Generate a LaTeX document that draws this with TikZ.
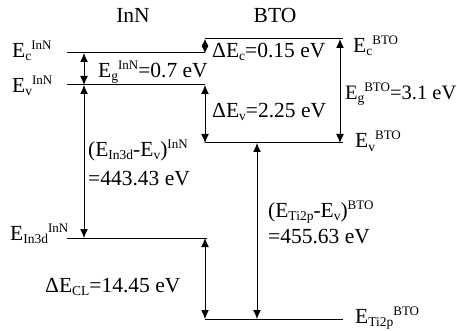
\documentclass[tikz,border=0pt]{standalone}
\usepackage{fontspec}
\setmainfont{Liberation Serif}
\usetikzlibrary{arrows.meta}
\newcommand\Sup[1]{\raisebox{8pt}{\fontsize{13}{13}\selectfont #1}}
\newcommand\Sub[1]{\raisebox{-3pt}{\fontsize{13.5}{13.5}\selectfont #1}}
\tikzset{
  lvl/.style={line width=1pt},
  dbl/.style={line width=1pt,{Latex[length=9pt,width=8pt]}-{Latex[length=9pt,width=8pt]}},
  lbl/.style={inner sep=0pt,anchor=base west,font=\fontsize{21.5}{26}\selectfont},
  ttl/.style={inner sep=0pt,anchor=base,font=\fontsize{21.5}{26}\selectfont}
}
\begin{document}
\begin{tikzpicture}[x=1pt,y=-1pt]
\useasboundingbox (0,0) rectangle (457,331);
% level coordinates
\coordinate (cI1) at (67,53);  \coordinate (cI2) at (205,53);
\coordinate (vI1) at (67,85);  \coordinate (vI2) at (205,85);
\coordinate (cB1) at (205,39); \coordinate (cB2) at (343,39);
\coordinate (vB1) at (205,143);\coordinate (vB2) at (343,143);
\coordinate (dI1) at (67,238); \coordinate (dI2) at (207,238);
\coordinate (tB1) at (205,319);\coordinate (tB2) at (343,319);
\draw[lvl] (cI1) -- (cI2);
\draw[lvl] (vI1) -- (vI2);
\draw[lvl] (cB1) -- (cB2);
\draw[lvl] (vB1) -- (vB2);
\draw[lvl] (dI1) -- (dI2);
\draw[lvl] (tB1) -- (tB2);
% arrow end coordinates
\coordinate (gI1) at (84,53);  \coordinate (gI2) at (84,85);
\coordinate (kI1) at (84,85);  \coordinate (kI2) at (84,238);
\coordinate (dc1) at (205,39); \coordinate (dc2) at (205,53);
\coordinate (dv1) at (205,85); \coordinate (dv2) at (205,143);
\coordinate (gB1) at (340,39); \coordinate (gB2) at (340,143);
\coordinate (cl1) at (205,238);\coordinate (cl2) at (205,319);
\coordinate (kB1) at (257,143);\coordinate (kB2) at (257,319);
\draw[dbl] (gI1) -- (gI2);
\draw[dbl] (kI1) -- (kI2);
\draw[line width=0.8pt,{Latex[length=7pt,width=7pt]}-{Latex[length=7pt,width=7pt]}] (dc1) -- (dc2);
\draw[dbl] (dv1) -- (dv2);
\draw[dbl] (gB1) -- (gB2);
\draw[dbl] (cl1) -- (cl2);
\draw[dbl] (kB1) -- (kB2);
% labels
\node[ttl] (tInN) at (133,23) {InN};
\node[ttl] (tBTO) at (275,23) {BTO};
\node[lbl] (lcI) at (12,58) {E\Sub{c}\Sup{InN}};
\node[lbl] (lvI) at (12,93) {E\Sub{v}\Sup{InN}};
\node[lbl] (lgI) at (98,78) {E\Sub{g}\Sup{InN}=0.7 eV};
\node[lbl] (ldc) at (212,58) {ΔE\Sub{c}=0.15 eV};
\node[lbl] (lcB) at (353,53) {E\Sub{c}\Sup{BTO}};
\node[lbl,anchor=base east,font=\fontsize{20.5}{24}\selectfont] (lgB) at (456.5,100) {E\Sub{g}\Sup{BTO}=3.1 eV};
\node[lbl] (ldv) at (212,118) {ΔE\Sub{v}=2.25 eV};
\node[lbl] (lvB) at (355,148) {E\Sub{v}\Sup{BTO}};
\node[lbl] (lkI) at (88,157) {(E\Sub{In3d}-E\Sub{v})\Sup{InN}};
\node[lbl] (lkI2) at (88,185) {=443.43 eV};
\node[lbl] (ldI) at (10,240) {E\Sub{In3d}\Sup{InN}};
\node[lbl] (lcl) at (45,292) {ΔE\Sub{CL}=14.45 eV};
\node[lbl] (lkB) at (268,217) {(E\Sub{Ti2p}-E\Sub{v})\Sup{BTO}};
\node[lbl] (lkB2) at (268,243) {=455.63 eV};
\node[lbl] (ltB) at (355,323) {E\Sub{Ti2p}\Sup{BTO}};
\end{tikzpicture}
\end{document}
